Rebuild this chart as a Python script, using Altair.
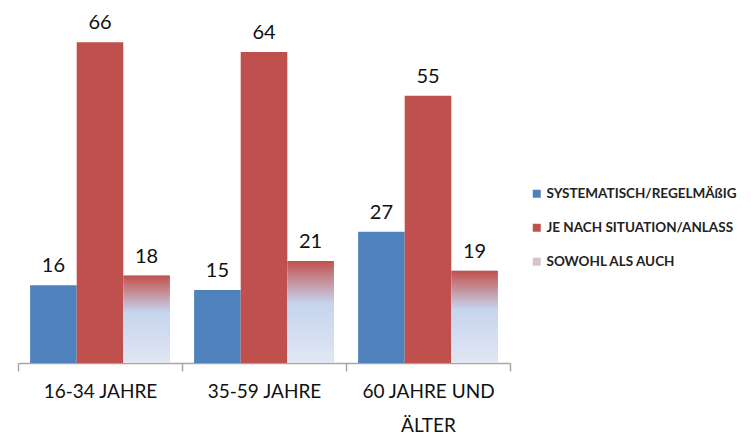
import altair as alt
import pandas as pd

groups = ["16-34 JAHRE", "35-59 JAHRE", "60 JAHRE UND ÄLTER"]
series = ["SYSTEMATISCH/REGELMÄßIG", "JE NACH SITUATION/ANLASS", "SOWOHL ALS AUCH"]
v_syst = [16, 15, 27]
v_situ = [66, 64, 55]
v_both = [18, 21, 19]
colors = ["#4f81bd", "#c0504d", "#d6c3d0"]

rows = []
for vals, s in zip([v_syst, v_situ, v_both], series):
    for g, v in zip(groups, vals):
        rows.append({"group": g, "series": s, "value": v})
df = pd.DataFrame(rows)

FONT = "Lato"

x = alt.X("group:N", sort=groups, title=None,
          scale=alt.Scale(paddingInner=0, paddingOuter=0),
          axis=alt.Axis(labelAngle=0, labelFontSize=19, labelFont=FONT, labelColor="#111111",
                        labelPadding=11, labelLineHeight=34, labelBaseline="top",
                        tickBand="extent", tickSize=8, tickColor="#a6a6a6", tickWidth=1.5,
                        domainColor="#a6a6a6", domainWidth=1.5, grid=False,
                        labelExpr="datum.value == '60 JAHRE UND ÄLTER' ? ['60 JAHRE UND', 'ÄLTER'] : datum.value"))
xo = alt.XOffset("series:N", sort=series,
                 scale=alt.Scale(domain=series, paddingInner=0, paddingOuter=0.26))
y = alt.Y("value:Q", scale=alt.Scale(domain=[0, 72], nice=False), axis=None)

base = alt.Chart(df)

bars = base.mark_bar(stroke=None).encode(
    x=x, xOffset=xo, y=y,
    color=alt.Color("series:N", sort=series,
                    scale=alt.Scale(domain=series, range=colors),
                    legend=alt.Legend(title=None, orient="none", legendX=512, legendY=174,
                                      symbolType="square", symbolSize=64, symbolStrokeWidth=0,
                                      labelFont=FONT, labelFontSize=13.5, labelFontWeight="bold",
                                      labelColor="#222222", rowPadding=19, labelOffset=3,
                                      labelLimit=300)),
)

grad = {
    "gradient": "linear", "x1": 0, "y1": 0, "x2": 0, "y2": 1,
    "stops": [
        {"offset": 0, "color": "#c0504d"},
        {"offset": 0.12, "color": "#c4777a"},
        {"offset": 0.42, "color": "#c6d4ee"},
        {"offset": 1, "color": "#e1e7f3"},
    ],
}
both = base.transform_filter(alt.datum.series == series[2]).mark_bar(fill=grad, stroke=None).encode(
    x=x, xOffset=xo, y=y
)

labels = base.mark_text(baseline="bottom", dy=-9, fontSize=20, font=FONT, color="#111111").encode(
    x=x, xOffset=xo, y=y, text="value:Q"
)

chart = alt.layer(bars, both, labels).properties(
    width=492, height=350,
    padding={"left": 10, "top": 5, "right": 233, "bottom": 90},
    autosize=alt.AutoSizeParams(type="none"),
).configure_view(stroke=None)

chart.save("out.html", embed_options={"renderer": "svg", "actions": False})
